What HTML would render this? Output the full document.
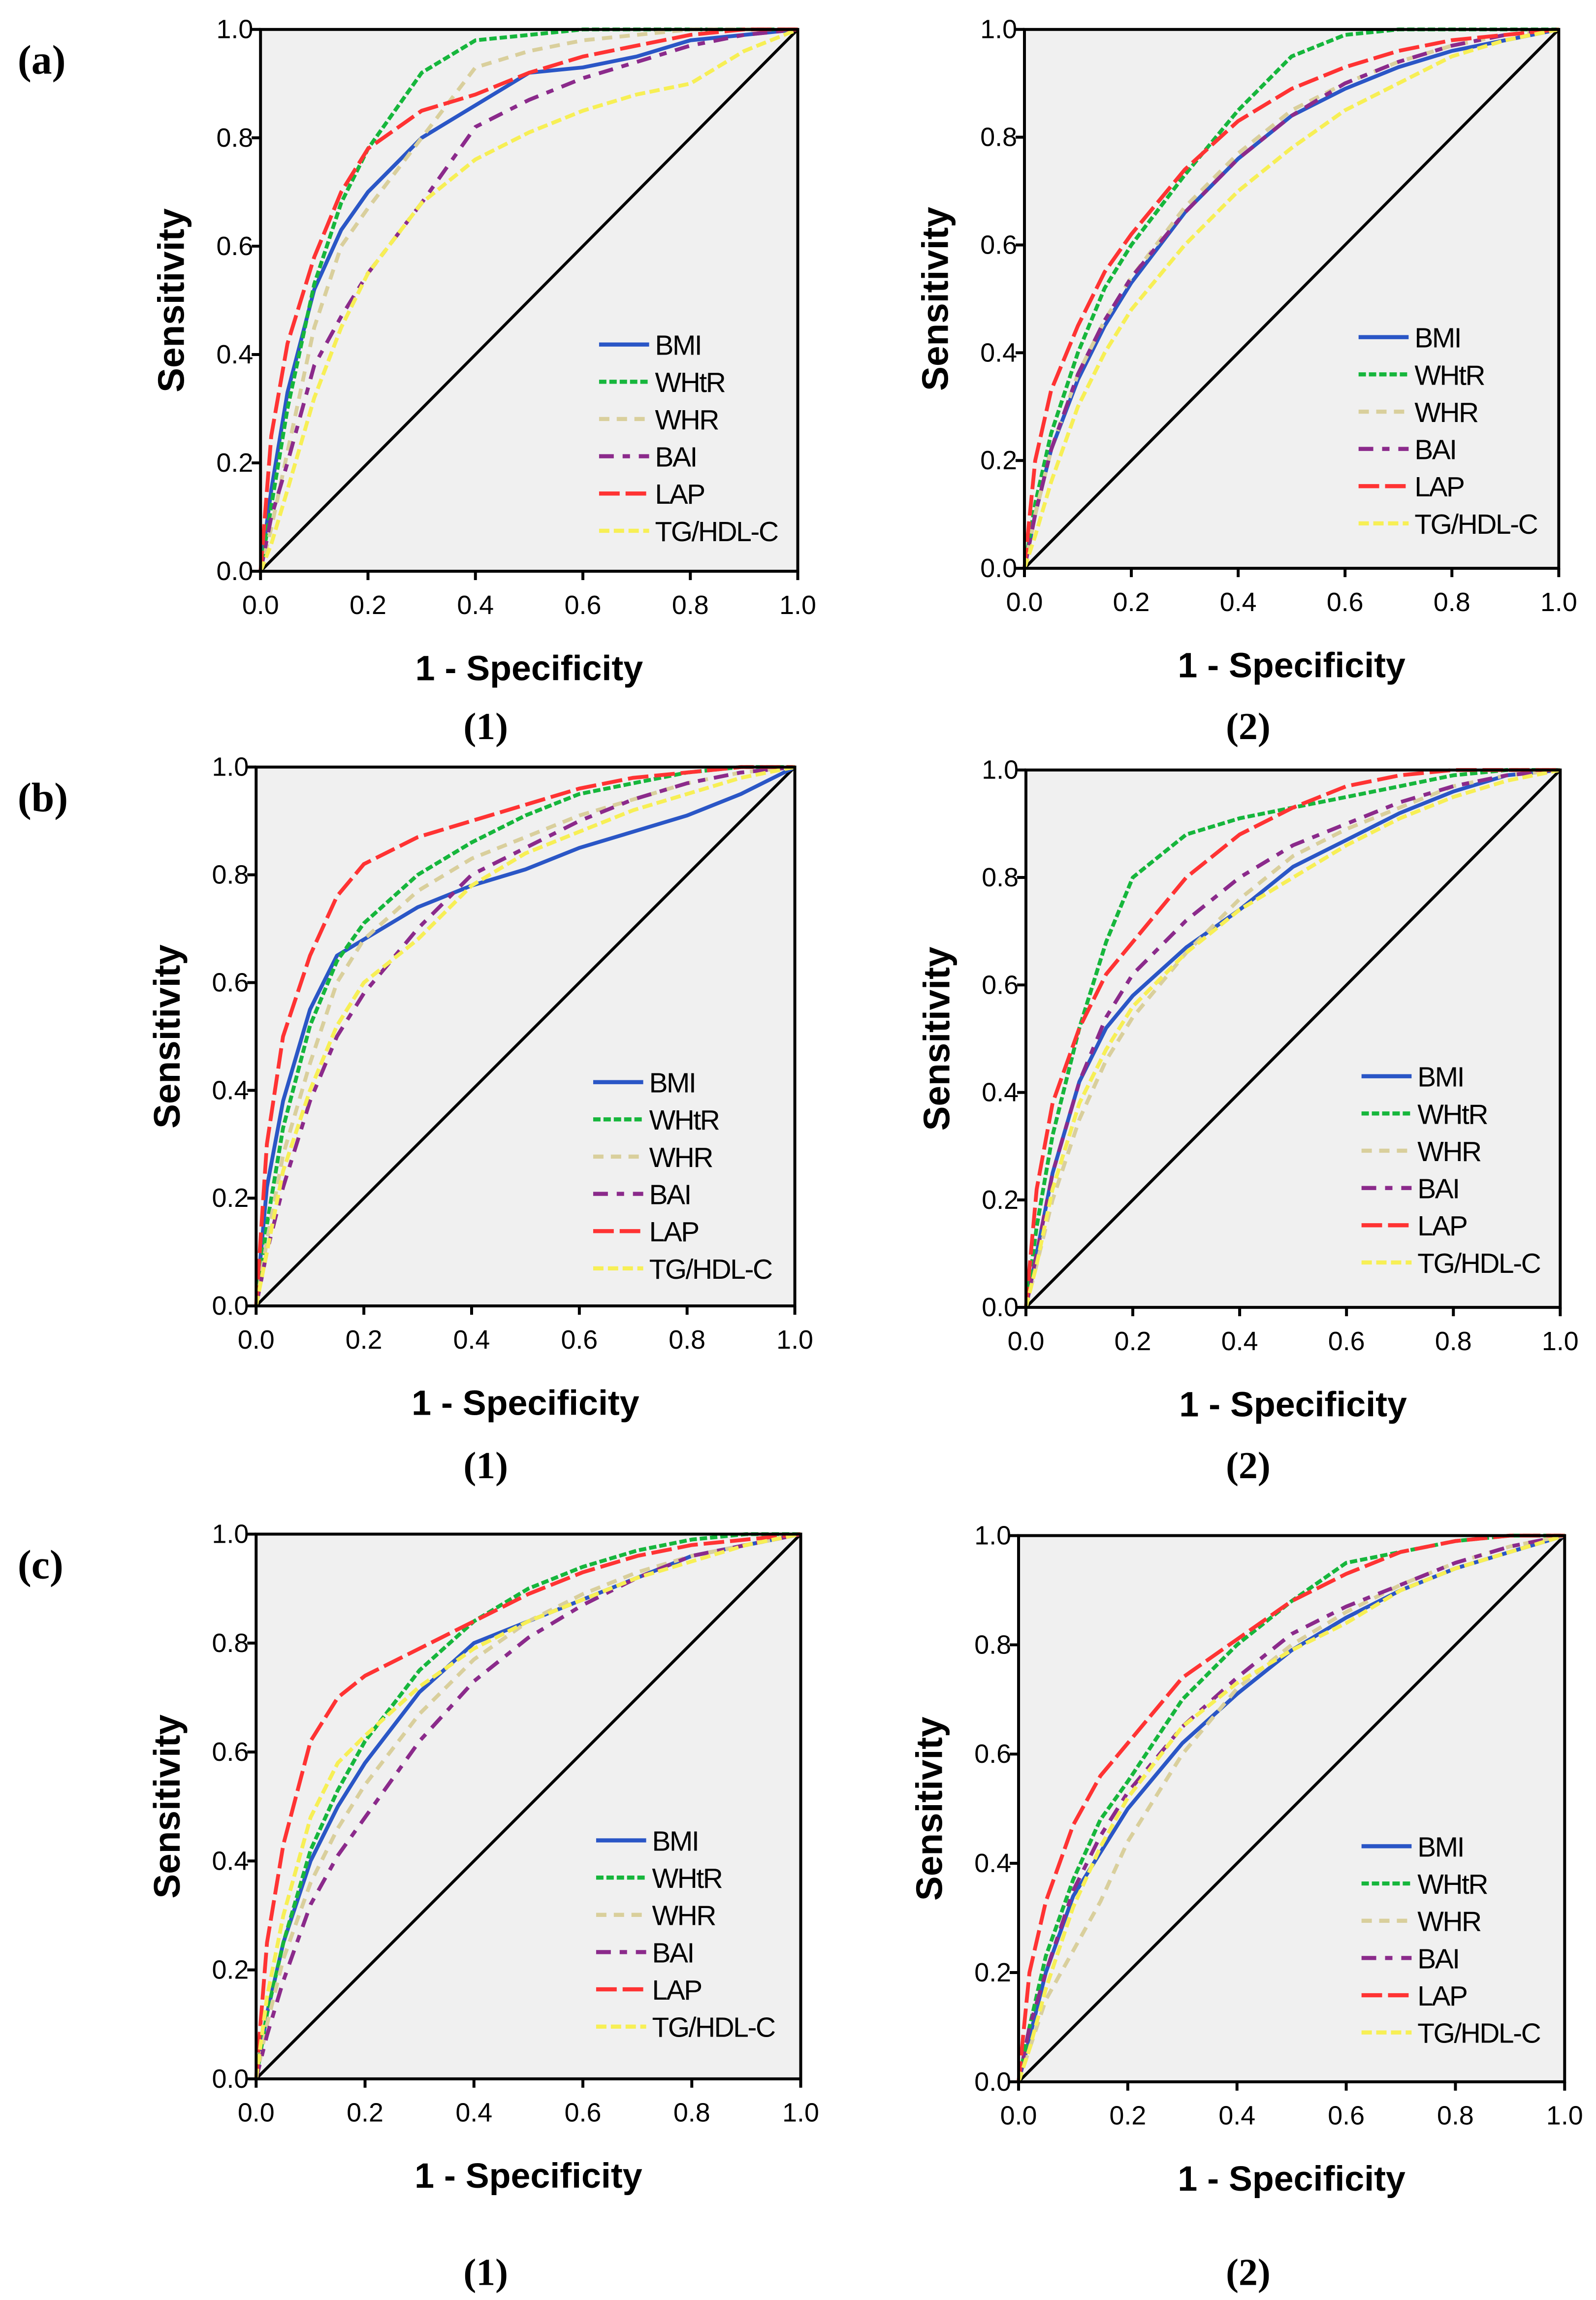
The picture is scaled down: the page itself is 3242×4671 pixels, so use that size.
<!DOCTYPE html>
<html><head><meta charset="utf-8">
<style>html,body{margin:0;padding:0;background:#fff}svg{display:block}</style></head>
<body>
<svg id="fig" xmlns="http://www.w3.org/2000/svg" width="3242" height="4671" viewBox="0 0 1084.3 1562.2" preserveAspectRatio="none" font-family="Liberation Sans, Arial, sans-serif">
<rect width="1084.3" height="1562.2" fill="#fff"/>
</svg>
<script>
const fprGrid = [0,0.02,0.05,0.1,0.15,0.2,0.3,0.4,0.5,0.6,0.7,0.8,0.9,1];
const seriesNames = ["BMI","WHtR","WHR","BAI","LAP","TG/HDL-C"];
const tickLabels = ["0.0","0.2","0.4","0.6","0.8","1.0"];
const a1BMI=[0,.15,.33,.52,.63,.70,.80,.86,.92,.93,.95,.98,.99,1];
const a1WHtR=[0,.12,.3,.53,.68,.78,.92,.98,.99,1,1,1,1,1];
const a1WHR=[0,.08,.22,.45,.60,.67,.80,.93,.96,.98,.99,1,1,1];
const a1BAI=[0,.1,.2,.38,.47,.55,.68,.82,.87,.91,.94,.97,.99,1];
const a1LAP=[0,.25,.42,.58,.70,.78,.85,.88,.92,.95,.97,.99,1,1];
const a1TG=[0,.05,.15,.32,.45,.55,.68,.76,.81,.85,.88,.90,.96,1];
const a2BMI=[0,.1,.22,.35,.45,.53,.66,.76,.84,.89,.93,.96,.98,1];
const a2WHtR=[0,.12,.25,.40,.52,.60,.73,.85,.95,.99,1,1,1,1];
const a2WHR=[0,.1,.22,.36,.46,.54,.67,.77,.85,.90,.94,.97,.99,1];
const a2BAI=[0,.1,.22,.36,.46,.54,.66,.76,.84,.90,.94,.97,.99,1];
const a2LAP=[0,.2,.33,.45,.55,.62,.74,.83,.89,.93,.96,.98,.99,1];
const a2TG=[0,.06,.16,.30,.40,.48,.60,.70,.78,.85,.90,.95,.98,1];
const b1BMI=[0,.22,.38,.55,.65,.68,.74,.78,.81,.85,.88,.91,.95,1];
const b1WHtR=[0,.15,.33,.52,.64,.71,.80,.86,.91,.95,.97,.99,1,1];
const b1WHR=[0,.12,.28,.45,.60,.68,.77,.83,.87,.91,.94,.97,.99,1];
const b1BAI=[0,.1,.22,.38,.50,.58,.70,.80,.85,.90,.94,.97,.99,1];
const b1LAP=[0,.3,.5,.65,.76,.82,.87,.90,.93,.96,.98,.99,1,1];
const b1TG=[0,.1,.25,.40,.52,.60,.68,.78,.84,.88,.92,.95,.98,1];
const b2BMI=[0,.1,.25,.42,.52,.58,.67,.74,.82,.87,.92,.96,.99,1];
const b2WHtR=[0,.15,.32,.52,.68,.80,.88,.91,.93,.95,.97,.99,1,1];
const b2WHR=[0,.08,.2,.35,.46,.54,.66,.76,.84,.89,.93,.97,.99,1];
const b2BAI=[0,.1,.25,.42,.54,.62,.72,.80,.86,.90,.94,.97,.99,1];
const b2LAP=[0,.22,.38,.52,.62,.68,.80,.88,.93,.97,.99,1,1,1];
const b2TG=[0,.08,.22,.38,.48,.56,.66,.74,.80,.86,.91,.95,.98,1];
const c1BMI=[0,.12,.25,.40,.50,.58,.71,.80,.84,.88,.92,.96,.98,1];
const c1WHtR=[0,.12,.25,.42,.53,.62,.75,.84,.90,.94,.97,.99,1,1];
const c1WHR=[0,.1,.22,.36,.46,.54,.67,.77,.84,.89,.93,.96,.98,1];
const c1BAI=[0,.08,.18,.32,.41,.48,.62,.73,.81,.87,.92,.96,.98,1];
const c1LAP=[0,.25,.43,.62,.70,.74,.79,.84,.89,.93,.96,.98,.99,1];
const c1TG=[0,.15,.30,.48,.58,.63,.72,.79,.84,.88,.92,.95,.98,1];
const c2BMI=[0,.08,.2,.34,.42,.50,.62,.71,.79,.85,.90,.94,.97,1];
const c2WHtR=[0,.1,.23,.37,.48,.55,.70,.80,.88,.95,.97,.99,1,1];
const c2WHR=[0,.06,.15,.24,.33,.44,.60,.72,.80,.86,.91,.95,.98,1];
const c2BAI=[0,.1,.2,.35,.45,.53,.65,.74,.82,.87,.91,.95,.98,1];
const c2LAP=[0,.2,.33,.47,.56,.62,.74,.81,.88,.93,.97,.99,1,1];
const c2TG=[0,.06,.17,.32,.43,.52,.65,.73,.79,.84,.90,.94,.97,1];

const styles=[
 {c:"#2a56c6",d:""},{c:"#16b63c",d:"5,2"},{c:"#d9cf9c",d:"7,5"},
 {c:"#8b2a8b",d:"10,6,5,6"},{c:"#ff3333",d:"14,4"},{c:"#f7ef55",d:"7,3"}];
const panels=[
 {id:"a1",x0:177,x1:542,y0:20,y1:388,lx:407,ly:234,sub:"(1)",sx:330,sy:502,let:"(a)",data:[a1BMI,a1WHtR,a1WHR,a1BAI,a1LAP,a1TG]},
 {id:"a2",x0:696,x1:1059,y0:20,y1:386,lx:923,ly:229,sub:"(2)",sx:848,sy:502,data:[a2BMI,a2WHtR,a2WHR,a2BAI,a2LAP,a2TG]},
 {id:"b1",x0:174,x1:540,y0:521,y1:887,lx:403,ly:735,sub:"(1)",sx:330,sy:1004,let:"(b)",data:[b1BMI,b1WHtR,b1WHR,b1BAI,b1LAP,b1TG]},
 {id:"b2",x0:697,x1:1060,y0:523,y1:888,lx:925,ly:731,sub:"(2)",sx:848,sy:1004,data:[b2BMI,b2WHtR,b2WHR,b2BAI,b2LAP,b2TG]},
 {id:"c1",x0:174,x1:544,y0:1042,y1:1412,lx:405,ly:1250,sub:"(1)",sx:330,sy:1552,let:"(c)",data:[c1BMI,c1WHtR,c1WHR,c1BAI,c1LAP,c1TG]},
 {id:"c2",x0:692,x1:1063,y0:1043,y1:1414,lx:925,ly:1254,sub:"(2)",sx:848,sy:1552,data:[c2BMI,c2WHtR,c2WHR,c2BAI,c2LAP,c2TG]}];
const svg=document.getElementById('fig');
const NS="http://www.w3.org/2000/svg";
function mk(parent,tag,attrs,text){const e=document.createElementNS(NS,tag);for(const k in attrs)e.setAttribute(k,attrs[k]);if(text!==undefined)e.textContent=text;parent.appendChild(e);return e;}
panels.forEach((p,pi)=>{
 const g=mk(svg,'g',{});
 
 
 const sx=v=>p.x0+v*(p.x1-p.x0), sy=v=>p.y1-v*(p.y1-p.y0);
 const bg=mk(g,'rect',{x:p.x0,y:p.y0,width:p.x1-p.x0,height:p.y1-p.y0,fill:"#f0f0f0"});
 
 
 const diag=mk(g,'line',{x1:sx(0),y1:sy(0),x2:sx(1),y2:sy(1),stroke:"#000","stroke-width":2});
 
 
 p.data.forEach((arr,si)=>{
  const pts=arr.map((v,i)=>sx(fprGrid[i]).toFixed(1)+","+sy(v).toFixed(1)).join(" ");
  const pl=mk(g,'polyline',{points:pts,fill:"none",stroke:styles[si].c,"stroke-width":2.6,"stroke-dasharray":styles[si].d,"stroke-linejoin":"round"});
  
  
 });
 const frame=mk(g,'rect',{x:p.x0,y:p.y0,width:p.x1-p.x0,height:p.y1-p.y0,fill:"none",stroke:"#000","stroke-width":2});
 
 
 tickLabels.forEach((t,i)=>{
  const v=i/5;
  mk(g,'line',{x1:sx(v),y1:p.y1,x2:sx(v),y2:p.y1+6,stroke:"#000","stroke-width":2});
  mk(g,'line',{x1:p.x0-6,y1:sy(v),x2:p.x0,y2:sy(v),stroke:"#000","stroke-width":2});
  const xt=mk(g,'text',{x:sx(v),y:p.y1+29,"font-size":18,"text-anchor":"middle"},t);
  
  
  const yt=mk(g,'text',{x:p.x0-5,y:sy(v)+6,"font-size":18,"text-anchor":"end"},t);
  
  
 });
 const xtl=mk(g,'text',{x:(p.x0+p.x1)/2,y:p.y1+74,"font-size":24,"font-weight":"bold","text-anchor":"middle"},"1 - Specificity");
 
 
 const cy=(p.y0+p.y1)/2, cx=p.x0-52;
 const ytl=mk(g,'text',{x:cx,y:cy,"font-size":25,"font-weight":"bold","text-anchor":"middle",transform:`rotate(-90 ${cx} ${cy})`},"Sensitivity");
 
 
 const sub=mk(g,'text',{x:p.sx,y:p.sy,"font-size":26,"font-family":"Liberation Serif, serif","font-weight":"bold","text-anchor":"middle"},p.sub);
 
 
 if(p.let){
  const lt=mk(g,'text',{x:12,y:p.y0+30,"font-size":28,"font-family":"Liberation Serif, serif","font-weight":"bold"},p.let);
  
  
 }
 seriesNames.forEach((n,si)=>{
  const y=p.ly+si*25.3;
  const le=mk(g,'g',{});
  
  
  mk(le,'line',{x1:p.lx,y1:y,x2:p.lx+34,y2:y,stroke:styles[si].c,"stroke-width":2.8,"stroke-dasharray":styles[si].d});
  mk(le,'text',{x:p.lx+38,y:y+7,"font-size":19,"letter-spacing":"-0.8"},n);
 });
});
</script>
</body></html>
